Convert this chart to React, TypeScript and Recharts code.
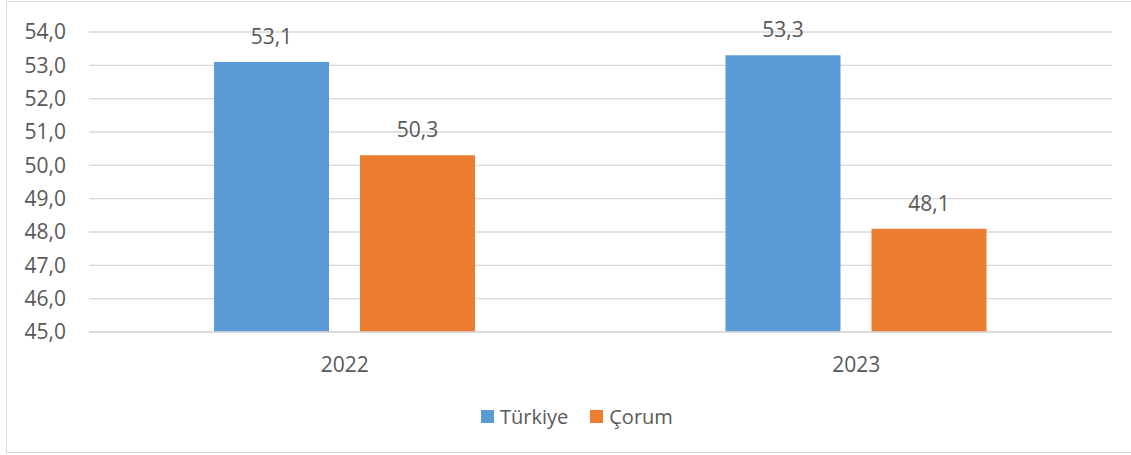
import React from "react";
import { BarChart, Bar, XAxis, YAxis, CartesianGrid, Legend, LabelList } from "recharts";

const categories = ["2022", "2023"];
const turkiye = [53.1, 53.3];
const corum = [50.3, 48.1];
const yTicks = [45, 46, 47, 48, 49, 50, 51, 52, 53, 54];
const seriesNames = ["Türkiye", "Çorum"];
const seriesColors = ["#5B9BD5", "#ED7D31"];

const data = categories.map((c, i) => ({ year: c, turkiye: turkiye[i], corum: corum[i] }));

const fmt = (v: number) => v.toFixed(1).replace(".", ",");
const FONT = "'Open Sans', sans-serif";
const TEXT = "#595959";

const LegendContent = () => (
  <div style={{ display: "flex", alignItems: "center", height: 30, fontFamily: FONT, fontSize: 20, color: TEXT }}>
    {seriesNames.map((n, i) => (
      <div key={n} style={{ display: "flex", alignItems: "center", marginRight: i === 0 ? 22 : 0 }}>
        <div style={{ width: 13, height: 13, background: seriesColors[i], marginRight: 6 }} />
        <span>{n}</span>
      </div>
    ))}
  </div>
);

export default function App() {
  return (
    <div style={{ position: "absolute", left: 0, top: 0, width: 1131, height: 455, overflow: "hidden", background: "#fff" }}>
      <div style={{ position: "absolute", left: 6, top: 1, width: 1140, height: 452, border: "1px solid #d9d9d9", boxSizing: "border-box" }} />
      <div style={{ position: "absolute", left: 0, top: 0 }}>
        <BarChart
          width={1131}
          height={455}
          data={data}
          margin={{ top: 32, right: 19, bottom: 24, left: 0 }}
          barGap={31}
          style={{ fontFamily: FONT }}
        >
          <CartesianGrid vertical={false} stroke="#d9d9d9" strokeWidth={1.3} />
          <XAxis
            dataKey="year"
            height={69}
            tickLine={false}
            tickSize={0}
            tickMargin={25}
            axisLine={{ stroke: "#d9d9d9", strokeWidth: 1.3 }}
            tick={{ fill: TEXT, fontSize: 21, fontFamily: FONT }}
          />
          <YAxis
            width={89}
            domain={[45, 54]}
            ticks={yTicks}
            interval={0}
            tickFormatter={fmt}
            axisLine={false}
            tickLine={false}
            tickSize={0}
            tickMargin={23}
            tick={{ fill: TEXT, fontSize: 21, fontFamily: FONT }}
          />
          <Legend
            verticalAlign="bottom"
            height={30}
            content={<LegendContent />}
            wrapperStyle={{ left: 481, width: "auto", bottom: 24 }}
          />
          <Bar dataKey="turkiye" name={seriesNames[0]} fill={seriesColors[0]} barSize={115} isAnimationActive={false}>
            <LabelList dataKey="turkiye" position="top" offset={18} formatter={(v: any) => fmt(Number(v))} fill={TEXT} fontSize={21} fontFamily={FONT} />
          </Bar>
          <Bar dataKey="corum" name={seriesNames[1]} fill={seriesColors[1]} barSize={115} isAnimationActive={false}>
            <LabelList dataKey="corum" position="top" offset={18} formatter={(v: any) => fmt(Number(v))} fill={TEXT} fontSize={21} fontFamily={FONT} />
          </Bar>
        </BarChart>
      </div>
    </div>
  );
}
